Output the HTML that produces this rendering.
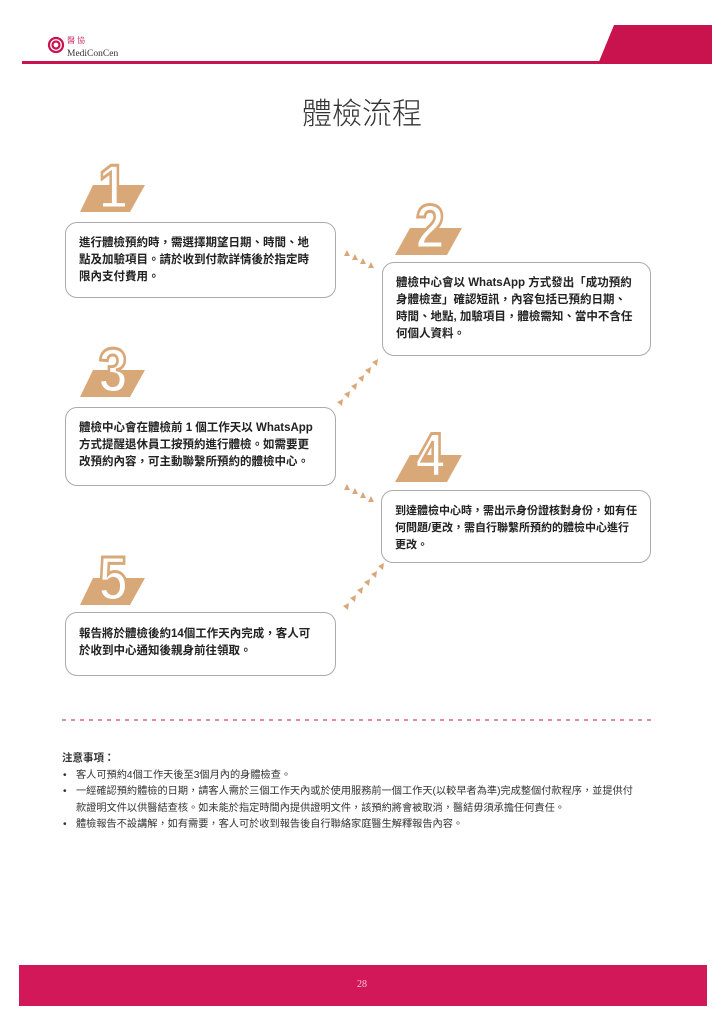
<!DOCTYPE html>
<html><head><meta charset="utf-8">
<style>
body{margin:0;width:724px;height:1024px;background:#fff;position:relative;overflow:hidden;font-family:"Liberation Sans","Noto Sans CJK TC",sans-serif;color:#222}
.box{position:absolute;border:1px solid #aaa;border-radius:12px;background:#fff;font-size:11.5px;line-height:17px;font-weight:bold;color:#222;padding:12px 0 0 13px;box-sizing:border-box;white-space:nowrap}
.notes{position:absolute;left:62px;top:750px;width:620px;font-size:10.2px;line-height:16.5px;color:#333;white-space:nowrap}
.notes div{position:relative;padding-left:14px}
.notes div:before{content:"•";position:absolute;left:1px}
</style></head><body>
<svg width="724" height="1024" style="position:absolute;left:0;top:0">
<g fill="none" stroke="#c8134f" stroke-width="2.2">
<circle cx="56" cy="45" r="7"/><circle cx="56" cy="45" r="3.5"/>
</g>
<text x="67" y="43" font-size="8" fill="#c8134f" font-family="Noto Serif CJK SC, serif">醫 協</text>
<text x="67" y="56" font-size="9.5" fill="#333" font-family="Liberation Serif, serif">MediConCen</text>
<rect x="22" y="61" width="690" height="3" fill="#c8134f"/>
<polygon points="614,25 712,25 712,64 598,64" fill="#c8134f"/>
<text x="362" y="124" text-anchor="middle" font-size="30" fill="#333" font-family="Noto Sans CJK TC, sans-serif" font-weight="300">體檢流程</text>
<g font-family="Liberation Sans, sans-serif" font-weight="bold" font-size="62" fill="#fff" stroke="#d9a878" stroke-width="3" text-anchor="middle">
<polygon points="93,185 145,185 130,212 80,212" fill="#d9a878" stroke="none"/>
<text x="113" y="208" transform="translate(113 0) scale(0.85 1) translate(-113 0)">1</text>
<polygon points="410,228 462,228 447,255 395,255" fill="#d9a878" stroke="none"/>
<text x="430" y="248" transform="translate(430 0) scale(0.85 1) translate(-430 0)">2</text>
<polygon points="93,370 145,370 130,397 80,397" fill="#d9a878" stroke="none"/>
<text x="113" y="392" transform="translate(113 0) scale(0.85 1) translate(-113 0)">3</text>
<polygon points="410,455 462,455 447,482 395,482" fill="#d9a878" stroke="none"/>
<text x="430" y="476" transform="translate(430 0) scale(0.85 1) translate(-430 0)">4</text>
<polygon points="93,578 145,578 130,605 80,605" fill="#d9a878" stroke="none"/>
<text x="113" y="600" transform="translate(113 0) scale(0.85 1) translate(-113 0)">5</text>
</g>
<g fill="#d9a878">
<polygon points="344,256 350,256 347,250"/><polygon points="352,260 358,260 355,254"/><polygon points="360,264 366,264 363,258"/><polygon points="368,268 374,268 371,262"/>
<polygon points="372,362 377,366 378,359"/><polygon points="365,370 370,374 371,367"/><polygon points="358,378 363,382 364,375"/><polygon points="351,386 356,390 357,383"/><polygon points="344,394 349,398 350,391"/><polygon points="337,402 342,406 343,399"/>
<polygon points="344,490 350,490 347,484"/><polygon points="352,494 358,494 355,488"/><polygon points="360,498 366,498 363,492"/><polygon points="368,502 374,502 371,496"/>
<polygon points="378,566 383,570 384,563"/><polygon points="371,574 376,578 377,571"/><polygon points="364,582 369,586 370,579"/><polygon points="357,590 362,594 363,587"/><polygon points="350,598 355,602 356,595"/><polygon points="343,606 348,610 349,603"/>
</g>
<line x1="62" y1="720" x2="652" y2="720" stroke="#c8134f" stroke-width="1" stroke-dasharray="4,5"/>
<rect x="19" y="965" width="688" height="41" fill="#d3185a"/>
<text x="362" y="987" text-anchor="middle" font-size="10" fill="#f5c6d6" font-family="Liberation Serif, serif">28</text>
</svg>
<div class="box" style="left:65px;top:222px;width:271px;height:76px">進行體檢預約時，需選擇期望日期、時間、地<br>點及加驗項目。請於收到付款詳情後於指定時<br>限內支付費用。</div>
<div class="box" style="left:382px;top:262px;width:269px;height:94px">體檢中心會以 WhatsApp 方式發出「成功預約<br>身體檢查」確認短訊，內容包括已預約日期、<br>時間、地點, 加驗項目，體檢需知、當中不含任<br>何個人資料。</div>
<div class="box" style="left:65px;top:407px;width:271px;height:79px">體檢中心會在體檢前 1 個工作天以 WhatsApp<br>方式提醒退休員工按預約進行體檢。如需要更<br>改預約內容，可主動聯繫所預約的體檢中心。</div>
<div class="box" style="left:381px;top:490px;width:270px;height:73px;font-size:11px">到達體檢中心時，需出示身份證核對身份，如有任<br>何問題/更改，需自行聯繫所預約的體檢中心進行<br>更改。</div>
<div class="box" style="left:65px;top:612px;width:271px;height:64px;padding-top:13px">報告將於體檢後約14個工作天內完成，客人可<br>於收到中心通知後親身前往領取。</div>
<div class="notes">
<b style="font-size:10.5px">注意事項：</b>
<div>客人可預約4個工作天後至3個月內的身體檢查。</div>
<div>一經確認預約體檢的日期，請客人需於三個工作天內或於使用服務前一個工作天(以較早者為準)完成整個付款程序，並提供付<br>款證明文件以供醫結查核。如未能於指定時間內提供證明文件，該預約將會被取消，醫結毋須承擔任何責任。</div>
<div>體檢報告不設講解，如有需要，客人可於收到報告後自行聯絡家庭醫生解釋報告內容。</div>
</div>
</body></html>
